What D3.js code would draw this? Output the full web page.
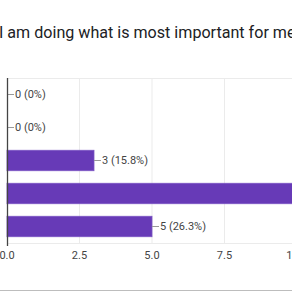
<!DOCTYPE html>
<html>
<head>
<meta charset="utf-8">
<script src="https://cdn.jsdelivr.net/npm/d3@7"></script>
<style>
  html, body { margin: 0; padding: 0; background: #fff; overflow: hidden; }
  svg { display: block; }
</style>
</head>
<body>
<div id="chart"></div>
<script>
// ── Data ─────────────────────────────────────────────────────
const title      = 'I am doing what is most important for me';
const categories = ['1', '2', '3', '4', '5'];
const counts     = [0, 0, 3, 11, 5];
const xTicks     = [0, 2.5, 5, 7.5, 10];

const total = d3.sum(counts);
const rows  = categories.map((c, i) => ({ cat: c, n: counts[i] }));

// ── Layout ───────────────────────────────────────────────────
const W = 292, H = 292;
const m = { left: 7, top: 78, bottom: 49 };
const plotH = H - m.top - m.bottom;

const svg = d3.select('#chart').append('svg')
  .attr('width', W).attr('height', H)
  .attr('font-family', 'Roboto, Arial, sans-serif');

const x = d3.scaleLinear().domain([0, 10]).range([m.left, m.left + 290]);
const y = d3.scaleBand().domain(categories)
  .range([m.top, m.top + plotH])
  .paddingInner(0.38).paddingOuter(0.19);

// ── Title ────────────────────────────────────────────────────
svg.append('text')
  .attr('x', -1).attr('y', 38)
  .attr('fill', '#202124')
  .attr('font-size', 16.1)
  .text(title);

// ── Grid ─────────────────────────────────────────────────────
svg.append('g').selectAll('line')
  .data(xTicks.filter(t => t > 0))
  .join('line')
  .attr('x1', d => x(d)).attr('x2', d => x(d))
  .attr('y1', m.top).attr('y2', m.top + plotH)
  .attr('stroke', '#ebebeb');

svg.append('g').selectAll('line')
  .data([m.top, m.top + plotH])
  .join('line')
  .attr('x1', m.left).attr('x2', W)
  .attr('y1', d => d + 0.5).attr('y2', d => d + 0.5)
  .attr('stroke', '#ebebeb');

// ── Bars ─────────────────────────────────────────────────────
svg.append('g').selectAll('rect')
  .data(rows.filter(r => r.n > 0))
  .join('rect')
  .attr('x', x(0))
  .attr('y', d => y(d.cat))
  .attr('width', d => x(d.n) - x(0))
  .attr('height', y.bandwidth())
  .attr('fill', '#673ab7')
  .attr('stroke', '#7c55c4')
  .attr('stroke-width', 0.8);

// ── Value labels ─────────────────────────────────────────────
const lab = svg.append('g').selectAll('g')
  .data(rows)
  .join('g')
  .attr('transform', d => `translate(${x(d.n)},${y(d.cat) + y.bandwidth() / 2})`);

lab.append('line')
  .attr('x1', 0).attr('x2', 7)
  .attr('stroke', '#999').attr('stroke-width', 1);

lab.append('text')
  .attr('x', 8).attr('dy', '0.35em')
  .attr('fill', '#444')
  .attr('font-size', 11)
  .text(d => `${d.n} (${d3.format('.1~f')(d.n / total * 100)}%)`);

// ── Axis ─────────────────────────────────────────────────────
svg.append('line')
  .attr('x1', m.left + 0.5).attr('x2', m.left + 0.5)
  .attr('y1', m.top).attr('y2', m.top + plotH + 3)
  .attr('stroke', '#444').attr('stroke-width', 1.3);

svg.append('g').selectAll('text')
  .data(xTicks)
  .join('text')
  .attr('x', d => x(d))
  .attr('y', m.top + plotH + 12)
  .attr('dy', '0.35em')
  .attr('text-anchor', 'middle')
  .attr('fill', '#444')
  .attr('font-size', 11)
  .text(d3.format('.1f'));

// ── Frame edge ───────────────────────────────────────────────
svg.append('line')
  .attr('x1', 0).attr('x2', W)
  .attr('y1', H - 1.5).attr('y2', H - 1.5)
  .attr('stroke', '#bdbdbd');
</script>
</body>
</html>
